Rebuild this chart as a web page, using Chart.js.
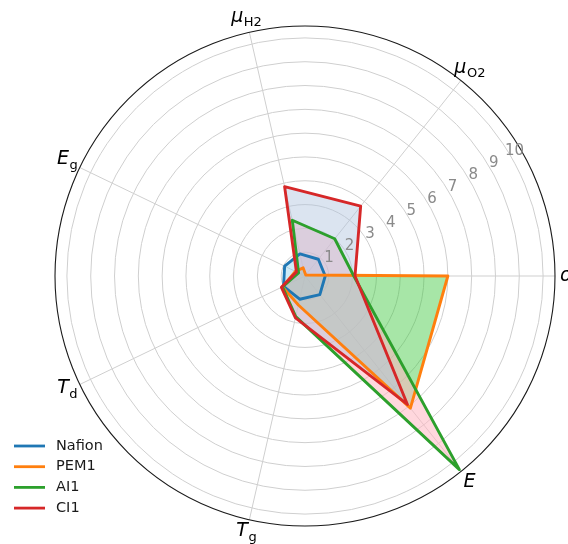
<!DOCTYPE html>
<html>
<head>
<meta charset="utf-8">
<script src="https://cdn.jsdelivr.net/npm/chart.js@4.4.1/dist/chart.umd.min.js"></script>
<style>
  html, body { margin: 0; padding: 0; background: #ffffff; overflow: hidden; }
  canvas { display: block; }
</style>
</head>
<body>
<canvas id="radar" width="568" height="544"></canvas>
<script>
// Property axes, listed clockwise starting from 3 o'clock
const axisNames = ['σ', 'E', 'T', 'T', 'E', 'μ', 'μ'];
const axisSubs  = ['', '', 'g', 'd', 'g', 'H2', 'O2'];
const axisLabels = axisNames.map((n, i) => n + axisSubs[i]);

// Radial ticks (rings) and scale limit
const radialTicks = [1, 2, 3, 4, 5, 6, 7, 8, 9, 10];
const radialMax = 10.5;

// Membrane scores per axis (same order as axisLabels)
const seriesNames = ['Nafion', 'PEM1', 'AI1', 'CI1'];
const nafion = [0.85, 1.0, 1.0, 1.0, 0.95, 0.95, 0.9];
const pem1   = [6.0, 7.1, 1.25, 1.05, 0.45, 0.35, 0.05];
const ai1    = [2.05, 10.4, 1.75, 1.05, 0.3, 2.4, 2.0];
const ci1    = [2.1, 6.9, 1.8, 1.1, 0.4, 3.85, 3.75];
const seriesValues = [nafion, pem1, ai1, ci1];

const lineColors = ['#1f77b4', '#ff7f0e', '#2ca02c', '#d62728'];
const fillColors = [
  'rgba(135,206,235,0.40)',
  'rgba(60,200,60,0.45)',
  'rgba(255,182,193,0.55)',
  'rgba(176,196,222,0.45)'
];

const FONT = '"DejaVu Sans", "Liberation Sans", sans-serif';

// Concentric rings, drawn before everything else
const ringPlugin = {
  id: 'rings',
  beforeDraw(chart) {
    const s = chart.scales.r, ctx = chart.ctx;
    ctx.save();
    ctx.strokeStyle = '#cfcfcf';
    ctx.lineWidth = 1;
    radialTicks.forEach(v => {
      const d = s.getDistanceFromCenterForValue(v);
      ctx.beginPath();
      ctx.arc(s.xCenter, s.yCenter, d, 0, Math.PI * 2);
      ctx.stroke();
    });
    ctx.restore();
  }
};

// Outer frame, ring numbers, axis names and legend on top
const overlayPlugin = {
  id: 'overlay',
  afterDatasetsDraw(chart) {
    const s = chart.scales.r, ctx = chart.ctx;
    ctx.save();

    // outer circle
    ctx.strokeStyle = '#1a1a1a';
    ctx.lineWidth = 1.1;
    ctx.beginPath();
    ctx.arc(s.xCenter, s.yCenter, s.getDistanceFromCenterForValue(radialMax), 0, Math.PI * 2);
    ctx.stroke();

    // ring numbers along a 30 degree ray
    const a = Math.PI / 6;
    ctx.font = '15px ' + FONT;
    ctx.fillStyle = '#8a8a8a';
    ctx.textAlign = 'center';
    ctx.textBaseline = 'middle';
    radialTicks.forEach(v => {
      const d = s.getDistanceFromCenterForValue(v) + 5.7;
      const x = s.xCenter + d * Math.cos(a) - 3.3 * Math.sin(a);
      const y = s.yCenter - d * Math.sin(a) - 3.3 * Math.cos(a);
      ctx.fillText(String(v), x, y);
    });

    // axis names with subscripts
    ctx.fillStyle = '#000000';
    ctx.textAlign = 'left';
    ctx.textBaseline = 'middle';
    for (let i = 0; i < axisNames.length; i++) {
      const p = s.getPointPosition(i, s.drawingArea + (i === 0 ? 11 : 14));
      const base = axisNames[i], sub = axisSubs[i];
      ctx.font = 'italic 19px ' + FONT;
      const wb = ctx.measureText(base).width;
      ctx.font = '13px ' + FONT;
      const ws = sub ? ctx.measureText(sub).width : 0;
      const x0 = p.x - (wb + ws) / 2;
      const y0 = p.y - (sub ? 2 : 0);
      ctx.font = 'italic 19px ' + FONT;
      ctx.fillText(base, x0, y0);
      if (sub) {
        ctx.font = '13px ' + FONT;
        ctx.fillText(sub, x0 + wb + 0.5, y0 + 6);
      }
    }

    // legend, lower left
    ctx.font = '14.5px ' + FONT;
    ctx.textBaseline = 'middle';
    seriesNames.forEach((name, i) => {
      const y = 446 + i * 20.7;
      ctx.strokeStyle = lineColors[i];
      ctx.lineWidth = 2.8;
      ctx.beginPath();
      ctx.moveTo(14, y);
      ctx.lineTo(45, y);
      ctx.stroke();
      ctx.fillStyle = '#1a1a1a';
      ctx.fillText(name, 56, y);
    });

    ctx.restore();
  }
};

new Chart(document.getElementById('radar'), {
  type: 'radar',
  data: {
    labels: axisLabels,
    datasets: seriesNames.map((name, i) => ({
      label: name,
      data: seriesValues[i],
      borderColor: lineColors[i],
      backgroundColor: fillColors[i],
      borderWidth: 2.9,
      borderJoinStyle: 'round',
      pointRadius: 0,
      pointHoverRadius: 0,
      fill: true,
      tension: 0,
      order: seriesNames.length - 1 - i
    }))
  },
  options: {
    responsive: false,
    animation: false,
    devicePixelRatio: 1,
    layout: { padding: { left: 55, right: 13, top: 26, bottom: 18 } },
    plugins: {
      legend: { display: false },
      tooltip: { enabled: false },
      filler: { drawTime: 'beforeDatasetsDraw' }
    },
    scales: {
      r: {
        min: 0,
        max: radialMax,
        startAngle: 90,
        ticks: { display: false, stepSize: 1 },
        grid: { display: false },
        angleLines: { display: true, color: '#cfcfcf', lineWidth: 1 },
        pointLabels: { display: false }
      }
    }
  },
  plugins: [ringPlugin, overlayPlugin]
});
</script>
</body>
</html>
